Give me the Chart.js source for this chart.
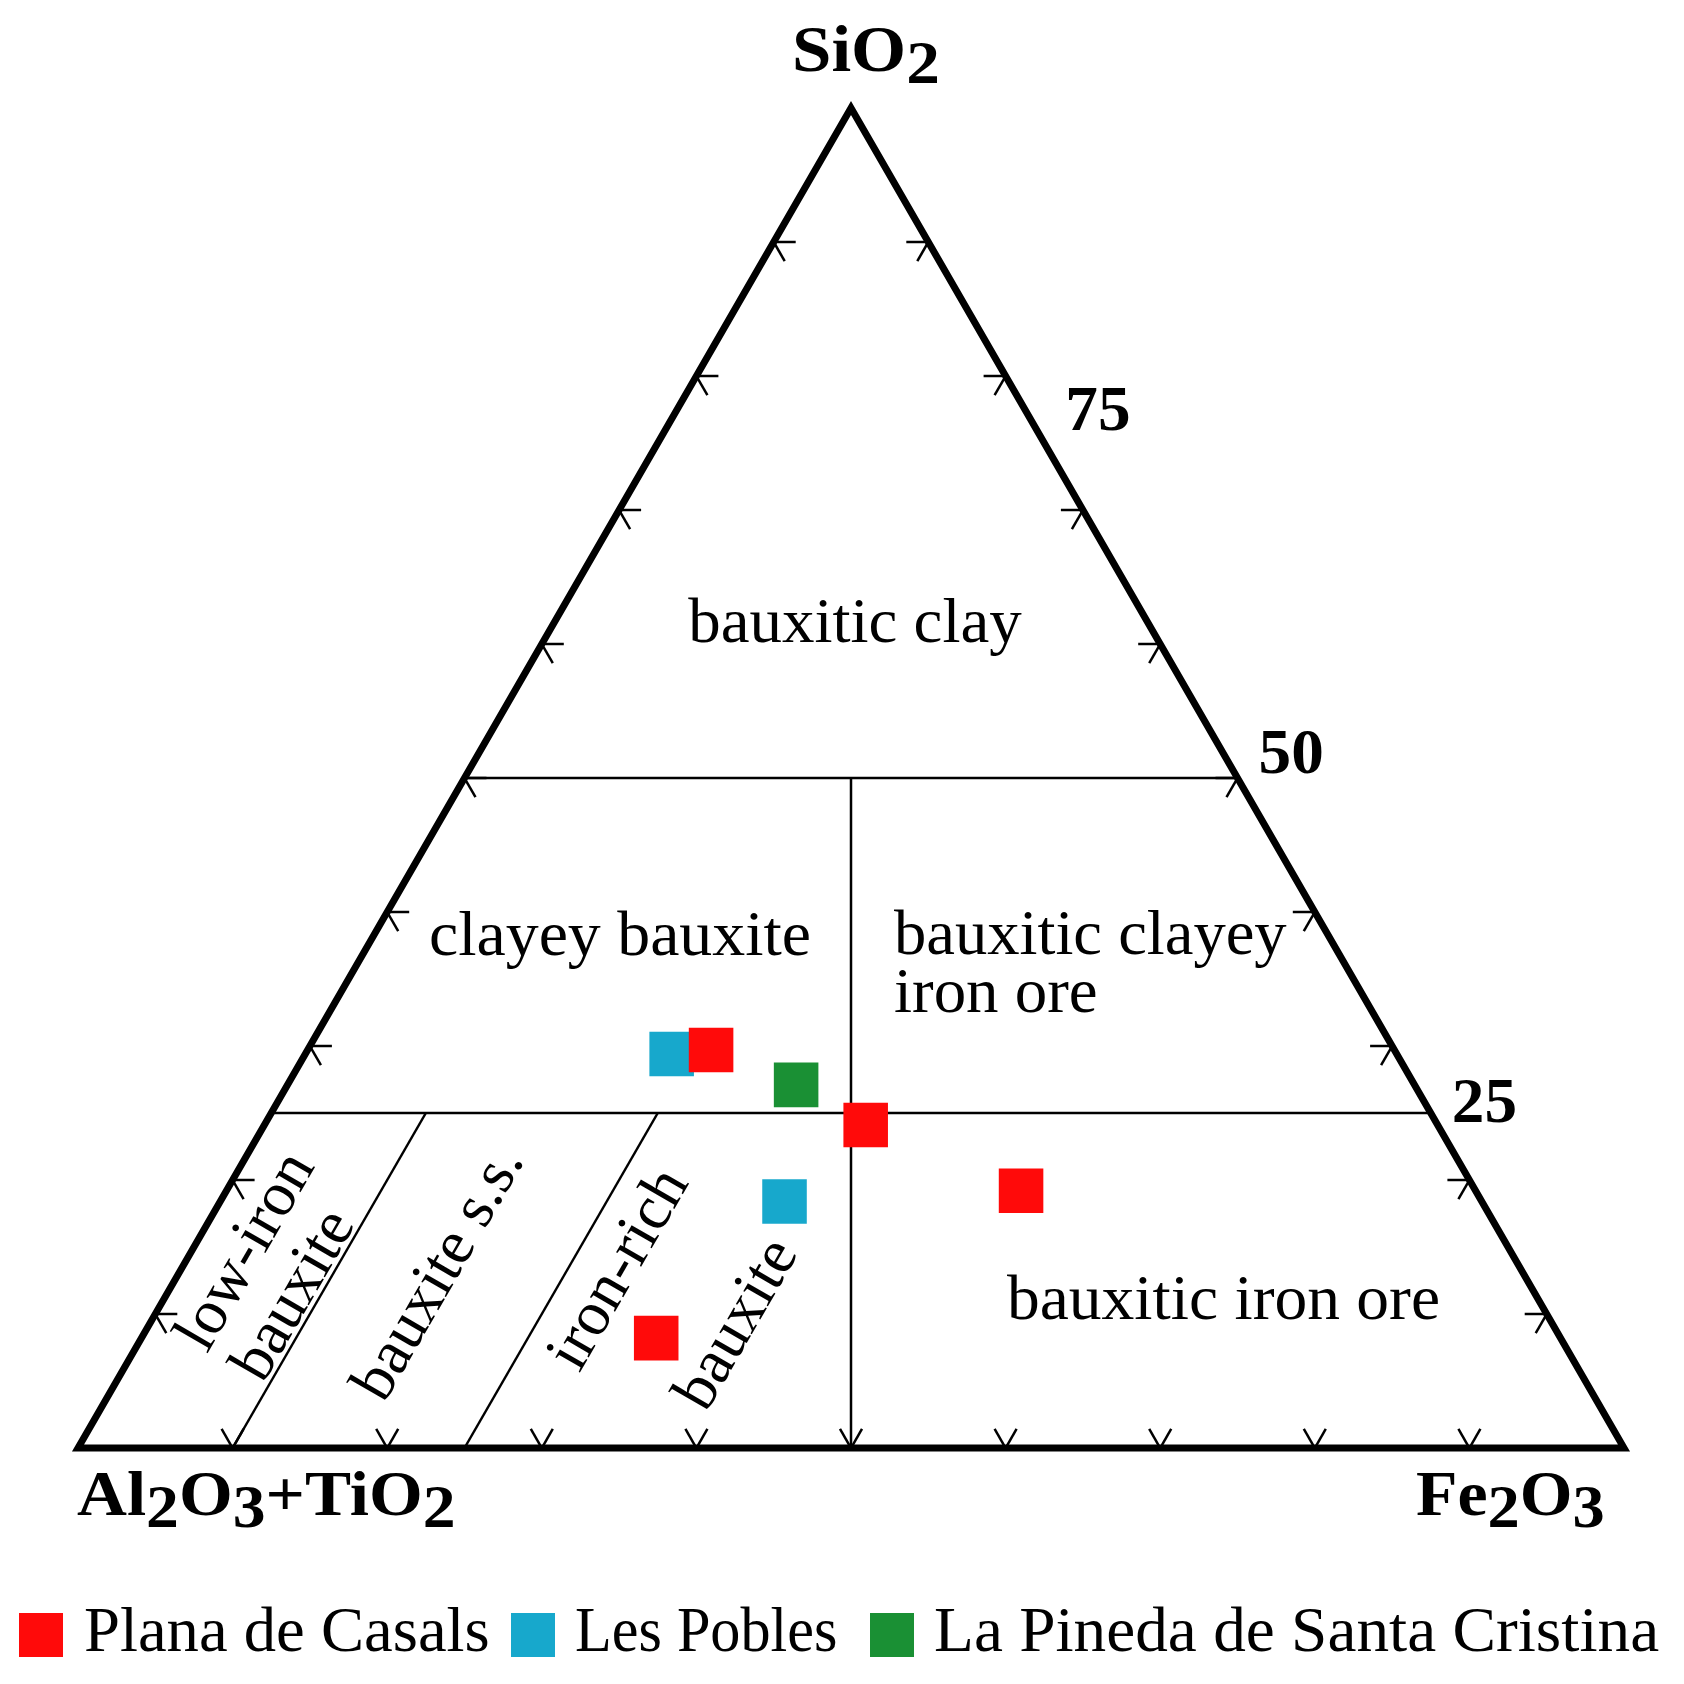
<!DOCTYPE html>
<html><head><meta charset="utf-8">
<script src="https://cdn.jsdelivr.net/npm/chart.js@4.4.0/dist/chart.umd.min.js"></script>
<style>html,body{margin:0;padding:0;background:#fff;}canvas{display:block;}</style>
</head><body>
<canvas id="c" width="1684" height="1684"></canvas>
<script>
// ---- data (wt%: SiO2, Al2O3+TiO2, Fe2O3) ----
const seriesNames = ['Plana de Casals', 'Les Pobles', 'La Pineda de Santa Cristina'];
const seriesColors = ['#ff0a0a', '#17a8cc', '#1a9034'];

const planaSiO2 = [29.7, 24.1, 19.2, 8.2];
const planaAl   = [44.2, 37.0, 29.4, 58.5];
const planaFe   = [26.1, 38.9, 51.4, 33.3];

const poblesSiO2 = [29.4, 18.4];
const poblesAl   = [46.9, 45.1];
const poblesFe   = [23.7, 36.5];

const pinedaSiO2 = [27.1];
const pinedaAl   = [40.0];
const pinedaFe   = [32.9];

const tickValues = [10, 20, 30, 40, 50, 60, 70, 80, 90];
const sideTickLabels = ['75', '50', '25'];
const sideTickValues = [75, 50, 25];

// region boundaries
const siO2Bounds = [50, 25];        // horizontal SiO2 lines
const feBoundsLow = [10, 25];       // constant Fe2O3 lines below SiO2 = 25

// ternary -> cartesian (x = Fe + SiO2/2, y = SiO2)
function toXY(s, a, f) {
  return s.map((v, i) => {
    const sum = v + a[i] + f[i];
    const S = v / sum * 100, F = f[i] / sum * 100;
    return { x: F + S / 2, y: S };
  });
}

const ternaryPlugin = {
  id: 'ternary',
  beforeDatasetsDraw(chart) {
    const { ctx, scales: { x, y } } = chart;
    const P = (s, f) => [x.getPixelForValue(f + s / 2), y.getPixelForValue(s)];
    const seg = (p, q) => { ctx.beginPath(); ctx.moveTo(p[0], p[1]); ctx.lineTo(q[0], q[1]); ctx.stroke(); };
    ctx.save();
    ctx.strokeStyle = '#000';
    ctx.fillStyle = '#000';
    ctx.lineCap = 'butt';
    // region lines
    ctx.lineWidth = 2.5;
    siO2Bounds.forEach(s => seg(P(s, 0), P(s, 100 - s)));
    seg(P(50, 25), P(0, 50));               // Fe2O3 = Al2O3+TiO2
    feBoundsLow.forEach(f => seg(P(0, f), P(25, f)));
    // ticks
    const L = 22, dx = L * 0.5, dy = L * 0.866;
    tickValues.forEach(v => {
      let p = P(v, 0);
      seg(p, [p[0] + L, p[1]]);
      seg(p, [p[0] + dx, p[1] + dy]);
      p = P(v, 100 - v);
      seg(p, [p[0] - L, p[1]]);
      seg(p, [p[0] - dx, p[1] + dy]);
      p = P(0, v);
      seg(p, [p[0] - dx, p[1] - dy]);
      seg(p, [p[0] + dx, p[1] - dy]);
    });
    // triangle
    ctx.lineWidth = 7;
    ctx.lineJoin = 'miter';
    ctx.beginPath();
    let a = P(0, 0), b = P(0, 100), c = P(100, 0);
    ctx.moveTo(a[0], a[1]); ctx.lineTo(b[0], b[1]); ctx.lineTo(c[0], c[1]); ctx.closePath();
    ctx.stroke();

    // text helper with horizontal stretch
    const text = (t, x0, y0, align, sx) => {
      ctx.save();
      ctx.translate(x0, y0);
      ctx.scale(sx, 1);
      ctx.textAlign = align;
      ctx.fillText(t, 0, 0);
      ctx.restore();
    };

    // right side value labels
    ctx.font = 'bold 64px "Liberation Serif"';
    ctx.textBaseline = 'alphabetic';
    const offs = [-13, -5, 9];
    sideTickValues.forEach((v, i) => {
      const p = P(v, 100 - v);
      text(sideTickLabels[i], p[0] + 21, p[1] + offs[i], 'left', 1.02);
    });

    // region labels
    ctx.font = '63px "Liberation Serif"';
    text('bauxitic clay', 855, 642, 'center', 1.03);
    text('clayey bauxite', 620, 955, 'center', 1.045);
    text('bauxitic clayey', 894, 954, 'left', 1.025);
    text('iron ore', 894, 1012, 'left', 1.03);
    text('bauxitic iron ore', 1007, 1319, 'left', 1.04);

    const rot = (t, cx, cy) => {
      ctx.save();
      ctx.translate(cx, cy);
      ctx.rotate(-Math.PI / 3);
      ctx.textAlign = 'center';
      ctx.textBaseline = 'middle';
      ctx.fillText(t, 0, 0);
      ctx.restore();
    };
    rot('low-iron', 247, 1252);
    rot('bauxite', 295, 1296);
    rot('bauxite s.s.', 440, 1274);
    rot('iron-rich', 620, 1270);
    rot('bauxite', 738, 1325);

    // axis titles with subscripts
    const chem = (parts, x0, base, size, sx) => {
      ctx.save();
      ctx.translate(x0, base);
      ctx.scale(sx, 1);
      let cx = 0;
      ctx.textAlign = 'left';
      ctx.textBaseline = 'alphabetic';
      parts.forEach(([t, sub]) => {
        ctx.font = 'bold ' + (sub ? size * 0.95 : size) + 'px "Liberation Serif"';
        ctx.fillText(t, cx, sub ? 12 : 0);
        cx += ctx.measureText(t).width;
      });
      ctx.restore();
    };
    chem([['SiO', 0], ['2', 1]], 792, 71, 65, 1.09);
    chem([['Al', 0], ['2', 1], ['O', 0], ['3', 1], ['+TiO', 0], ['2', 1]], 77, 1515, 64, 1.08);
    chem([['Fe', 0], ['2', 1], ['O', 0], ['3', 1]], 1416, 1515, 64, 1.06);

    // legend
    const legendPos = [[19, 84], [511, 575], [870, 934]];
    const legendSx = [1.01, 0.94, 1.02];
    ctx.font = '64px "Liberation Serif"';
    seriesNames.forEach((n, i) => {
      ctx.fillStyle = seriesColors[i];
      ctx.fillRect(legendPos[i][0], 1613, 44, 44);
      ctx.fillStyle = '#000';
      text(n, legendPos[i][1], 1651, 'left', legendSx[i]);
    });
    ctx.restore();
  }
};

const dsBase = { pointStyle: 'rect', pointRadius: 31.5, pointHoverRadius: 31.5, borderWidth: 0, pointBorderWidth: 0 };

new Chart(document.getElementById('c'), {
  type: 'scatter',
  data: {
    datasets: [
      Object.assign({ label: seriesNames[0], data: toXY(planaSiO2, planaAl, planaFe), backgroundColor: seriesColors[0], borderColor: seriesColors[0] }, dsBase),
      Object.assign({ label: seriesNames[1], data: toXY(poblesSiO2, poblesAl, poblesFe), backgroundColor: seriesColors[1], borderColor: seriesColors[1] }, dsBase),
      Object.assign({ label: seriesNames[2], data: toXY(pinedaSiO2, pinedaAl, pinedaFe), backgroundColor: seriesColors[2], borderColor: seriesColors[2] }, dsBase)
    ]
  },
  options: {
    responsive: false,
    animation: false,
    layout: { padding: { left: 78, right: 60, top: 108, bottom: 236 } },
    scales: {
      x: { type: 'linear', min: 0, max: 100, display: false },
      y: { type: 'linear', min: 0, max: 100, display: false }
    },
    plugins: { legend: { display: false }, tooltip: { enabled: false } }
  },
  plugins: [ternaryPlugin]
});
</script>
</body></html>
